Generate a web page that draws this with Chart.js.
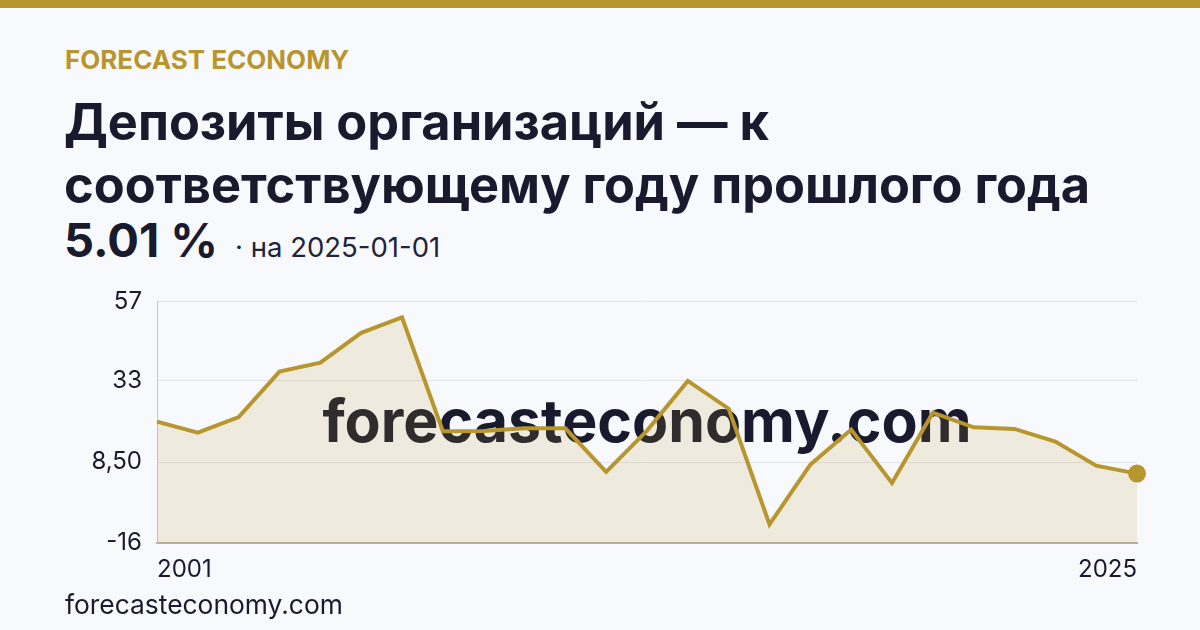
<!DOCTYPE html>
<html><head><meta charset="utf-8">
<script src="https://cdn.jsdelivr.net/npm/chart.js@4"></script>
<style>
html,body{margin:0;padding:0;}
body{width:1200px;height:630px;background:#f8f9fc;font-family:Inter,"Noto Sans",sans-serif;position:relative;overflow:hidden;}
.bar{position:absolute;left:0;top:0;width:1200px;height:8px;background:#b8962e;}
.brand{position:absolute;left:65px;top:44px;font-size:26px;font-weight:700;color:#b8962e;line-height:32px;}
.title{position:absolute;left:64px;top:90px;font-size:50.5px;font-weight:700;color:#1a1a2e;line-height:63px;white-space:nowrap;}
.valrow{position:absolute;left:64px;top:210px;white-space:nowrap;line-height:60px;}
.val{font-size:47px;font-weight:700;color:#1a1a2e;}
.date{font-size:27.5px;color:#22223a;margin-left:17px;}
.foot{position:absolute;left:65px;top:588px;font-size:26.4px;color:#1a1a2e;line-height:32px;}
.chartbox{position:absolute;left:0;top:272px;width:1149px;height:324px;}
</style></head>
<body>
<div class="bar"></div>
<div class="brand">FORECAST ECONOMY</div>
<div class="title">Депозиты организаций — к<br>соответствующему году прошлого года</div>
<div class="valrow"><span class="val">5.01 %</span><span class="date">· на 2025-01-01</span></div>
<div class="chartbox"><canvas id="c"></canvas></div>
<div class="foot">forecasteconomy.com</div>
<script>
const years = ["2001","2002","2003","2004","2005","2006","2007","2008","2009","2010","2011","2012","2013","2014","2015","2016","2017","2018","2019","2020","2021","2022","2023","2024","2025"];
const values = [20.7,17.4,22.1,35.8,38.5,47.5,52.2,17.8,17.9,18.7,18.7,5.5,18.0,33.0,24.6,-10.3,7.7,18.3,2.2,23.4,19.0,18.5,14.7,7.4,5.01];
const yTicks = [-16, 8.5, 33, 57];
const yTickLabels = ["-16","8,50","33","57"];
const watermark = "forecasteconomy.com";

const wm = {
  id:'wm',
  beforeDatasetsDraw(chart){
    const {ctx, chartArea:a} = chart;
    ctx.save();
    ctx.font = '700 59px Inter, sans-serif';
    ctx.fillStyle = '#1a1a2e';
    ctx.textAlign = 'center';
    ctx.textBaseline = 'middle';
    ctx.fillText(watermark, (a.left+a.right)/2, (a.top+a.bottom)/2 + 2);
    ctx.restore();
  }
};

new Chart(document.getElementById('c'), {
  type:'line',
  data:{labels:years, datasets:[{
    data:values,
    borderColor:'#b8962e',
    backgroundColor:'rgba(184,150,46,0.14)',
    fill:'start',
    borderWidth:4,
    tension:0,
    clip:false,
    pointRadius: values.map((v,i)=> i===values.length-1 ? 9 : 0),
    pointBackgroundColor:'#b8962e',
    pointBorderWidth:0
  }]},
  options:{
    responsive:true, maintainAspectRatio:false, animation:false,
    layout:{padding:{left:0,right:0,top:8,bottom:0}},
    plugins:{legend:{display:false}, tooltip:{enabled:false}},
    scales:{
      x:{
        grid:{display:false, drawTicks:false},
        border:{display:true,color:'#b5b0a5',width:2},
        ticks:{autoSkip:false, maxRotation:0, align:'inner', padding:12, color:'#1a1a2e',
          font:{family:'Inter',size:24},
          callback:(v,i)=> (i===0||i===years.length-1)? years[i] : ''}
      },
      y:{
        min:-16, max:57,
        afterBuildTicks:(s)=>{ s.ticks = yTicks.map(v=>({value:v})); },
        afterFit:(s)=>{ s.width = 157; },
        grid:{color:'#e3e3ea', drawTicks:false},
        border:{display:true,color:'#c5c5cc',width:1},
        ticks:{padding:15, color:'#1a1a2e', font:{family:'Inter',size:24},
          callback:(v)=>{ const i=yTicks.indexOf(v); return i>=0?yTickLabels[i]:''; }}
      }
    }
  },
  plugins:[wm]
});
</script>
</body></html>
